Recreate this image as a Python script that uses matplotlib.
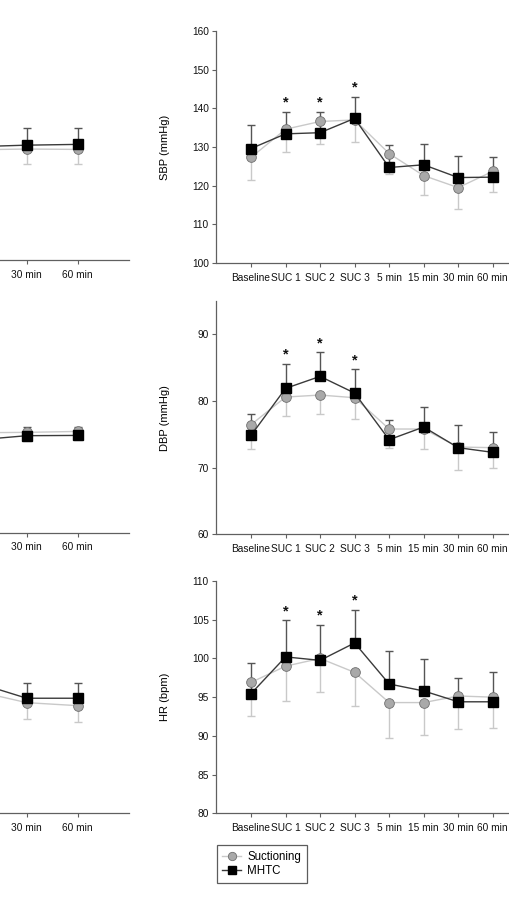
import numpy as np
import matplotlib
matplotlib.use("Agg")
import matplotlib.pyplot as plt
from matplotlib.lines import Line2D

plt.rcParams['font.family'] = ['Liberation Sans', 'DejaVu Sans']

categories = ["Baseline", "SUC 1", "SUC 2", "SUC 3", "5 min", "15 min", "30 min", "60 min"]

# Right column panels
sbp_suct = [127.3, 134.6, 136.6, 137.0, 128.3, 122.6, 119.5, 123.7]
sbp_suct_sd = [5.8, 6.0, 5.9, 5.6, 5.4, 4.9, 5.5, 5.4]
sbp_mhtc = [129.6, 133.4, 133.7, 137.4, 124.7, 125.4, 122.1, 122.2]
sbp_mhtc_sd = [6.0, 5.7, 5.4, 5.6, 5.7, 5.5, 5.6, 5.2]

dbp_suct = [76.45, 80.6, 80.9, 80.5, 75.8, 75.8, 73.1, 73.0]
dbp_suct_sd = [3.65, 2.9, 2.8, 3.2, 2.9, 3.0, 3.5, 3.0]
dbp_mhtc = [74.85, 81.9, 83.7, 81.2, 74.2, 76.1, 73.0, 72.3]
dbp_mhtc_sd = [3.25, 3.7, 3.6, 3.6, 3.0, 3.0, 3.4, 3.0]

hr_suct = [96.9, 99.0, 100.0, 98.2, 94.3, 94.3, 95.15, 95.0]
hr_suct_sd = [4.3, 4.5, 4.3, 4.4, 4.6, 4.2, 4.2, 4.0]
hr_mhtc = [95.45, 100.2, 99.75, 102.0, 96.7, 95.8, 94.4, 94.4]
hr_mhtc_sd = [3.95, 4.7, 4.6, 4.3, 4.3, 4.1, 3.1, 3.8]

star_cats = ["SUC 1", "SUC 2", "SUC 3"]

# Left column panels (only the visible part: 15, 30, 60 min)
left_cats = ["15 min", "30 min", "60 min"]
left_tick_cats = ["30 min", "60 min"]
l1_suct = [128.5, 128.7, 128.6]
l1_suct_sd = [np.nan, 3.9, 3.9]
l1_mhtc = [129.3, 129.7, 129.9]
l1_mhtc_sd = [np.nan, 4.4, 4.2]

l2_suct = [75.0, 75.06, 75.2]
l2_suct_sd = [np.nan, 1.25, 1.3]
l2_mhtc = [73.9, 74.56, 74.6]
l2_mhtc_sd = [np.nan, 1.35, 1.2]

l3_suct = [95.8, 94.29, 93.9]
l3_suct_sd = [np.nan, 2.07, 2.07]
l3_mhtc = [96.9, 94.86, 94.86]
l3_mhtc_sd = [np.nan, 2.0, 2.0]

W, H = 510, 901
fig = plt.figure(figsize=(W / 100, H / 100), dpi=100)

def px_axes(x0, x1, ytop, ybot):
    return fig.add_axes([x0 / W, 1 - ybot / H, (x1 - x0) / W, (ybot - ytop) / H])

SUCT_FACE = '#a9a9a9'
SUCT_EDGE = '#707070'
SUCT_LINE = '#c9c9c9'
MHTC_LINE = '#3a3a3a'
SPINE = '#606060'
FS = 7.3

def style(ax, ylim, yticks, tick_cats):
    ax.set_xlim(-1, 8)
    ax.set_ylim(*ylim)
    ax.set_yticks(yticks)
    ax.set_xticks([categories.index(c) for c in tick_cats])
    ax.set_xticklabels(tick_cats)
    for s in ['top', 'right']:
        ax.spines[s].set_visible(False)
    for s in ['left', 'bottom']:
        ax.spines[s].set_color(SPINE)
        ax.spines[s].set_linewidth(0.9)
    ax.tick_params(direction='out', length=3, width=0.8, color=SPINE,
                   labelsize=FS, pad=2.5, labelcolor='#111111')
    ax.tick_params(axis='x', pad=4)

def draw(ax, xs, suct, suct_sd, mhtc, mhtc_sd):
    suct = np.asarray(suct, float); mhtc = np.asarray(mhtc, float)
    ssd = np.asarray(suct_sd, float); msd = np.asarray(mhtc_sd, float)
    z = np.zeros_like(ssd)
    ax.errorbar(xs, suct, yerr=[ssd, z], fmt='none', ecolor=SUCT_LINE,
                elinewidth=1.0, capsize=3, capthick=1.0, zorder=1)
    ax.errorbar(xs, mhtc, yerr=[z, msd], fmt='none', ecolor='#555555',
                elinewidth=1.0, capsize=3, capthick=1.0, zorder=2)
    ax.plot(xs, suct, color=SUCT_LINE, lw=1.0, marker='o', ms=7.0,
            mfc=SUCT_FACE, mec=SUCT_EDGE, mew=0.6, zorder=3, clip_on=False)
    ax.plot(xs, mhtc, color=MHTC_LINE, lw=1.0, marker='s', ms=6.7,
            mfc='black', mec='black', zorder=4, clip_on=False)

def stars(ax, mhtc, mhtc_sd):
    for c in star_cats:
        i = categories.index(c)
        ax.annotate('*', (i, mhtc[i] + mhtc_sd[i]), xytext=(0, 1.5),
                    textcoords='offset points', ha='center', va='bottom',
                    fontsize=10.5, fontweight='bold', color='#111111')

# ---- right column
xr0 = 216.5
xr1 = xr0 + 9 * 34.53
xs = np.arange(len(categories))

ax1 = px_axes(xr0, xr1, 31, 263)
style(ax1, (100, 160), np.arange(100, 161, 10), categories)
draw(ax1, xs, sbp_suct, sbp_suct_sd, sbp_mhtc, sbp_mhtc_sd)
stars(ax1, sbp_mhtc, sbp_mhtc_sd)
ax1.set_ylabel('SBP (mmHg)', fontsize=FS + 0.7)

ax2 = px_axes(xr0, xr1, 301.1, 534.3)
style(ax2, (60, 95), [60, 70, 80, 90], categories)
draw(ax2, xs, dbp_suct, dbp_suct_sd, dbp_mhtc, dbp_mhtc_sd)
stars(ax2, dbp_mhtc, dbp_mhtc_sd)
ax2.set_ylabel('DBP (mmHg)', fontsize=FS + 0.7)

ax3 = px_axes(xr0, xr1, 581, 813.3)
style(ax3, (80, 110), np.arange(80, 111, 5), categories)
draw(ax3, xs, hr_suct, hr_suct_sd, hr_mhtc, hr_mhtc_sd)
stars(ax3, hr_mhtc, hr_mhtc_sd)
ax3.set_ylabel('HR (bpm)', fontsize=FS + 0.7)

for ax in (ax1, ax2, ax3):
    ax.yaxis.set_label_coords((170 - xr0) / (xr1 - xr0), 0.5)

# ---- left column (cropped)
xl0 = 77.7 - 8 * 51
xl1 = xl0 + 9 * 51
xl = [categories.index(c) for c in left_cats]

b1 = px_axes(xl0, xl1, 28, 260)
style(b1, (100, 160), [], left_tick_cats)
draw(b1, xl, l1_suct, l1_suct_sd, l1_mhtc, l1_mhtc_sd)

b2 = px_axes(xl0, xl1, 532.7 - 233.2, 532.7)
style(b2, (60, 95), [], left_tick_cats)
draw(b2, xl, l2_suct, l2_suct_sd, l2_mhtc, l2_mhtc_sd)

b3 = px_axes(xl0, xl1, 581, 813.3)
style(b3, (80, 110), [], left_tick_cats)
draw(b3, xl, l3_suct, l3_suct_sd, l3_mhtc, l3_mhtc_sd)

# ---- legend
handles = [
    Line2D([], [], color=SUCT_LINE, lw=1.0, marker='o', ms=6, mfc=SUCT_FACE, mec=SUCT_EDGE, mew=0.6),
    Line2D([], [], color=MHTC_LINE, lw=1.0, marker='s', ms=5.5, mfc='black', mec='black'),
]
leg = fig.legend(handles, ['Suctioning', 'MHTC'], loc='upper left',
                 bbox_to_anchor=(216.7 / W, 1 - 845 / H), frameon=True, fancybox=False,
                 fontsize=8.3, handlelength=1.6, handletextpad=0.55, borderpad=0.5,
                 labelspacing=0.2, borderaxespad=0)
leg.get_frame().set_edgecolor('#333333')
leg.get_frame().set_linewidth(0.9)

fig.savefig('out.png', dpi=100)
